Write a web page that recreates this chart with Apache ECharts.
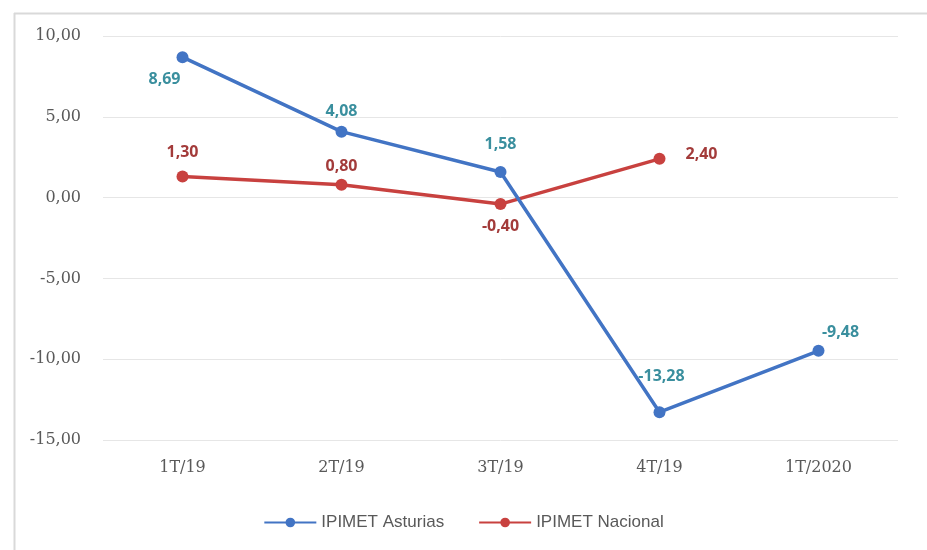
<!DOCTYPE html>
<html>
<head>
<meta charset="utf-8">
<script src="https://cdn.jsdelivr.net/npm/echarts@6/dist/echarts.min.js"></script>
<style>
  html, body { margin: 0; padding: 0; background: #fff; }
  #chart { width: 927px; height: 550px; }
</style>
</head>
<body>
<div id="chart"></div>
<script>
// datos del gráfico
const categories = ['1T/19', '2T/19', '3T/19', '4T/19', '1T/2020'];
const asturias = [8.69, 4.08, 1.58, -13.28, -9.48];
const nacional = [1.30, 0.80, -0.40, 2.40, null];
const yTicks = { min: -15, max: 10, interval: 5 };

// posiciones de las etiquetas (estilo, no datos)
const posAsturias = [[-18, 22], [0, -20], [0, -28], [2, -36], [22, -18]];
const posNacional = [[0, -24], [0, -18], [0, 22], [42, -4], [0, 0]];

const fmt = v => v.toFixed(2).replace('.', ',');

function buildData(values, offsets) {
    return values.map((v, i) => ({
        value: v,
        label: { offset: offsets[i] }
    }));
}

const chart = echarts.init(document.getElementById('chart'));

const option = {
    animation: false,
    grid: { left: 103, right: 29, top: 36, bottom: 110 },
    graphic: [
        { type: 'line', shape: { x1: 14.5, y1: 13, x2: 14.5, y2: 550 }, style: { stroke: '#d9d9d9', lineWidth: 2 } },
        { type: 'line', shape: { x1: 14, y1: 13.5, x2: 927, y2: 13.5 }, style: { stroke: '#d9d9d9', lineWidth: 2 } }
    ],
    legend: {
        bottom: 14,
        left: 'center',
        itemGap: 34,
        itemWidth: 52,
        itemHeight: 12,
        textStyle: { color: '#595959', fontSize: 17, fontFamily: 'Liberation Sans Narrow, Liberation Sans' },
        data: ['IPIMET Asturias', 'IPIMET Nacional']
    },
    xAxis: {
        type: 'category',
        data: categories,
        boundaryGap: true,
        axisLine: { show: false },
        axisTick: { show: false },
        axisLabel: { color: '#595959', fontSize: 16, fontFamily: 'DejaVu Serif', margin: 20 }
    },
    yAxis: {
        type: 'value',
        min: yTicks.min,
        max: yTicks.max,
        interval: yTicks.interval,
        axisLine: { show: false },
        axisTick: { show: false },
        splitLine: { lineStyle: { color: '#e6e6e6', width: 1 } },
        axisLabel: { color: '#595959', fontSize: 16, fontFamily: 'DejaVu Serif', margin: 22, formatter: fmt }
    },
    series: [
        {
            name: 'IPIMET Asturias',
            type: 'line',
            data: buildData(asturias, posAsturias),
            symbol: 'circle',
            symbolSize: 12,
            itemStyle: { color: '#4274c4' },
            lineStyle: { color: '#4274c4', width: 3.5 },
            label: {
                show: true,
                position: 'inside',
                color: '#3a8f9e',
                fontWeight: 'bold',
                fontSize: 16,
                fontFamily: 'Open Sans',
                formatter: p => fmt(p.value)
            },
            z: 3
        },
        {
            name: 'IPIMET Nacional',
            type: 'line',
            data: buildData(nacional, posNacional),
            symbol: 'circle',
            symbolSize: 12,
            itemStyle: { color: '#c8413f' },
            lineStyle: { color: '#c8413f', width: 3.5 },
            label: {
                show: true,
                position: 'inside',
                color: '#a33b3a',
                fontWeight: 'bold',
                fontSize: 16,
                fontFamily: 'Open Sans',
                formatter: p => p.value == null ? '' : fmt(p.value)
            },
            z: 2
        }
    ]
};

chart.setOption(option);
</script>
</body>
</html>
